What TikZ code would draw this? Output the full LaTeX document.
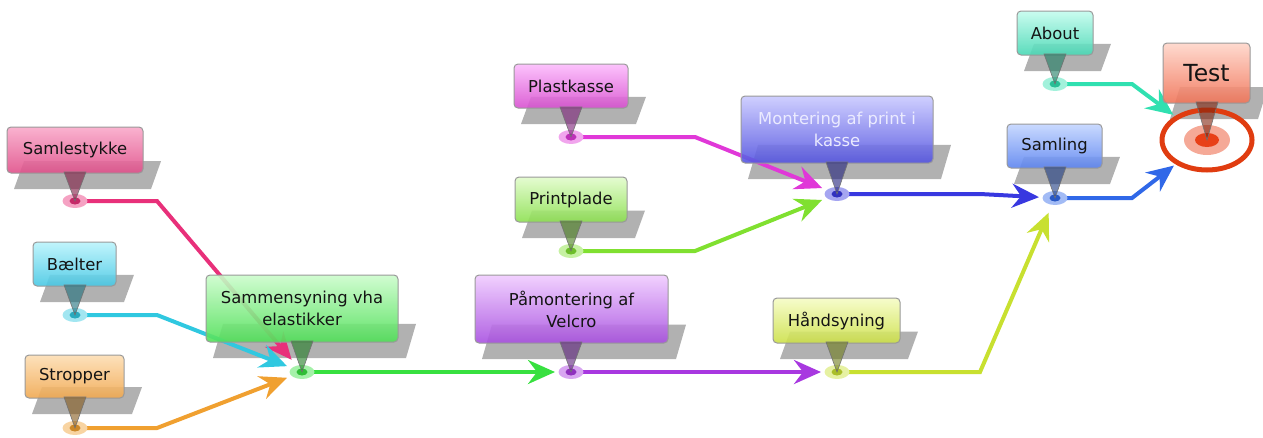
\documentclass[tikz,border=0pt]{standalone}
\usepackage{fontspec}
\setmainfont{DejaVu Sans}
\usetikzlibrary{arrows.meta,shapes.geometric}
\pgfdeclarelayer{shadowlayer}
\pgfdeclarelayer{lineslayer}
\pgfsetlayers{shadowlayer,lineslayer,main}
% colours: line, box top, box bottom
\definecolor{pk}{HTML}{E8307A}\definecolor{pktop}{HTML}{F9AACA}\definecolor{pkbot}{HTML}{E0508A}
\definecolor{cy}{HTML}{30C8E0}\definecolor{cytop}{HTML}{BAF4FC}\definecolor{cybot}{HTML}{48C8E4}
\definecolor{or}{HTML}{F0A030}\definecolor{ortop}{HTML}{FDDEB4}\definecolor{orbot}{HTML}{F0A850}
\definecolor{gr}{HTML}{38E040}\definecolor{grtop}{HTML}{CCFCCC}\definecolor{grbot}{HTML}{50E058}
\definecolor{pu}{HTML}{A838E0}\definecolor{putop}{HTML}{F0CCFF}\definecolor{pubot}{HTML}{A850E0}
\definecolor{yg}{HTML}{C8E030}\definecolor{ygtop}{HTML}{F6FCC6}\definecolor{ygbot}{HTML}{CCE048}
\definecolor{mg}{HTML}{E038D8}\definecolor{mgtop}{HTML}{FCBCFC}\definecolor{mgbot}{HTML}{D850D0}
\definecolor{lg}{HTML}{80E030}\definecolor{lgtop}{HTML}{E2FCCC}\definecolor{lgbot}{HTML}{8CE050}
\definecolor{bv}{HTML}{3838E0}\definecolor{bvtop}{HTML}{CACAFF}\definecolor{bvbot}{HTML}{5454E0}
\definecolor{bl}{HTML}{3068E8}\definecolor{bltop}{HTML}{C4D6FF}\definecolor{blbot}{HTML}{5C84F0}
\definecolor{te}{HTML}{30E0B0}\definecolor{tetop}{HTML}{C4FCEE}\definecolor{tebot}{HTML}{48D8B4}
\definecolor{rd}{HTML}{E84018}\definecolor{rdtop}{HTML}{FFD6CA}\definecolor{rdbot}{HTML}{F07458}
\definecolor{ring}{HTML}{E03C10}
\definecolor{txt}{HTML}{141414}
\tikzset{
  box/.style={draw=black!40, line width=1pt, rounded corners=4pt, fill opacity=0.9,
    text opacity=1, inner sep=0pt, align=center, text=txt,
    font=\fontsize{16.4pt}{22pt}\selectfont},
  halo/.style={ellipse, inner sep=0pt, minimum width=25pt, minimum height=14pt},
  shadowc/.style={fill=black!34, opacity=0.9},
  conn/.style={line width=4pt, draw=#1, shorten >=16pt,
    -{Stealth[length=27pt,width=24pt,inset=9pt]}},
}
% #1 name, #2 dot x, #3 dot y, #4 L, #5 R, #6 T, #7 B, #8 colour, #9 text
\newcommand\callout[9]{%
  \pgfmathsetmacro\hs{14+0.3*(#7-#6)}%
  \begin{pgfonlayer}{shadowlayer}
    \fill[shadowc] ({#4+7},{#7+16}) -- ({#5+8},{#7+16}) -- ({#5+18},{#7+16-\hs}) -- ({#4+17},{#7+16-\hs}) -- cycle;
  \end{pgfonlayer}
  \node[halo, fill=#8!45] (#1) at (#2,#3) {};
  \fill[#8!85!black] (#1.center) ellipse (5.5 and 3.5);
  \node[box, top color=#8top, bottom color=#8bot, minimum width={#5-#4}, minimum height={#7-#6}]
    (#1box) at ({(#4+#5)/2},{(#6+#7)/2}) {#9};
  \filldraw[fill=#8!55!black, fill opacity=0.6, draw=black!55, line width=0.6pt]
    ({#2-11},{#7-1}) -- (#1.center) -- ({#2+11},{#7-1}) -- cycle;
}
\begin{document}
\begin{tikzpicture}[x=1pt,y=-1pt]
\useasboundingbox (0,0) rectangle (1263,437);

% Test target (ring behind)
\node[ellipse, draw=ring, line width=5pt, minimum width=90pt, minimum height=60pt, inner sep=0pt] (testring) at (1207,140) {};
\fill[rd!45] (testring.center) ellipse (23 and 15);

\callout{samlestykke}{75}{201}{7}{143}{127}{173}{pk}{Samlestykke}
\callout{baelter}{75}{315}{33}{116}{242}{286}{cy}{Bælter}
\callout{stropper}{75}{428}{25}{124}{355}{398}{or}{Stropper}
\callout{sammensyning}{302}{372}{206}{398}{275}{342}{gr}{Sammensyning vha\\elastikker}
\callout{paamontering}{571}{372}{475}{668}{275}{343}{pu}{Påmontering af\\Velcro}
\callout{haandsyning}{837}{372}{773}{900}{298}{343}{yg}{Håndsyning}
\callout{plastkasse}{571}{137}{514}{628}{64}{108}{mg}{Plastkasse}
\callout{printplade}{571}{251}{515}{627}{177}{222}{lg}{Printplade}
\callout{montering}{837}{194}{741}{933}{96}{163}{bv}{\color{white!92!blue}Montering af print i\\\color{white!92!blue}kasse}
\callout{samling}{1055}{198}{1007}{1102}{124}{168}{bl}{Samling}
\callout{about}{1055}{84}{1017}{1093}{11}{55}{te}{About}

% Test callout
\begin{pgfonlayer}{shadowlayer}
  \fill[shadowc] (1170,119) -- (1258,119) -- (1268,87) -- (1180,87) -- cycle;
\end{pgfonlayer}
\fill[rd] (testring.center) ellipse (12 and 7);
\node[box, top color=rdtop, bottom color=rdbot, minimum width=87pt, minimum height=60pt,
  font=\fontsize{23.5pt}{28pt}\selectfont] (testbox) at (1206.5,73) {Test};
\filldraw[fill=rd!55!black, fill opacity=0.6, draw=black!55, line width=0.6pt]
  (1196,102) -- (testring.center) -- (1218,102) -- cycle;

% connectors
\begin{pgfonlayer}{lineslayer}
\draw[conn=pk] (samlestykke.center) -- ++(82,0) -- (sammensyning.center);
\draw[conn=cy] (baelter.center) -- ++(82,0) -- (sammensyning.center);
\draw[conn=or] (stropper.center) -- ++(82,0) -- (sammensyning.center);
\draw[conn=gr] (sammensyning.center) -- (paamontering.center);
\draw[conn=pu] (paamontering.center) -- (haandsyning.center);
\draw[conn=yg] (haandsyning.center) -- ++(143,0) -- (samling.center);
\draw[conn=mg] (plastkasse.center) -- ++(124,0) -- (montering.center);
\draw[conn=lg] (printplade.center) -- ++(124,0) -- (montering.center);
\draw[conn=bv] (montering.center) -- ++(143,0) -- (samling.center);
\draw[conn=bl, shorten >=2pt] (samling.center) -- ++(77,0) -- (testring);
\draw[conn=te, shorten >=2pt] (about.center) -- ++(77,0) -- (testring);
\end{pgfonlayer}
\end{tikzpicture}
\end{document}
